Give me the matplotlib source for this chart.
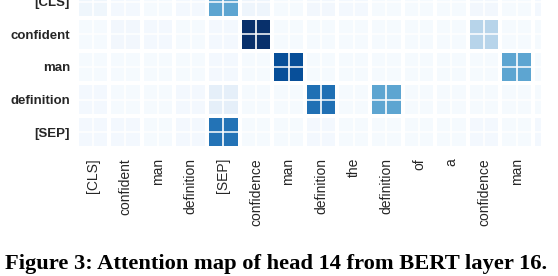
import numpy as np
import matplotlib
matplotlib.use("Agg")
import matplotlib.pyplot as plt

# ---- data -------------------------------------------------------------
row_labels = ["[CLS]", "confident", "man", "definition", "[SEP]"]
col_labels = ["[CLS]", "confident", "man", "definition", "[SEP]", "confidence",
              "man", "definition", "the", "definition", "of", "a",
              "confidence", "man"]
# 15th column is only partially visible at the right edge (no label)
cls_row        = [0.04, 0.02, 0.01, 0.02, 0.54, 0.05, 0.01, 0.03, 0.02, 0.01, 0.01, 0.01, 0.03, 0.01, 0.02]
confident_row  = [0.01, 0.03, 0.02, 0.01, 0.02, 1.00, 0.01, 0.01, 0.01, 0.01, 0.01, 0.01, 0.30, 0.01, 0.01]
man_row        = [0.01, 0.01, 0.01, 0.01, 0.02, 0.01, 0.88, 0.01, 0.01, 0.01, 0.01, 0.01, 0.01, 0.54, 0.01]
definition_row = [0.02, 0.01, 0.01, 0.02, 0.09, 0.01, 0.01, 0.75, 0.01, 0.54, 0.01, 0.01, 0.01, 0.01, 0.01]
sep_row        = [0.02, 0.02, 0.01, 0.02, 0.74, 0.01, 0.01, 0.02, 0.01, 0.01, 0.01, 0.01, 0.02, 0.01, 0.02]
caption = "Figure 3: Attention map of head 14 from BERT layer 16."

data = np.array([cls_row, confident_row, man_row, definition_row, sep_row])
n_rows, n_cols = data.shape

# ---- figure -----------------------------------------------------------
W, H, DPI = 558, 276, 100
fig = plt.figure(figsize=(W / DPI, H / DPI), dpi=DPI)

pitch = 32.6  # pixels per cell
x_vis = 14.25  # visible number of columns
left_px, bottom_px = 76.6, 148.4
ax = fig.add_axes([left_px / W, (H - bottom_px) / H,
                   x_vis * pitch / W, n_rows * pitch / H])

ax.pcolormesh(np.arange(n_cols + 1), np.arange(n_rows + 1), data,
              cmap="Blues", vmin=0, vmax=1, edgecolor="white",
              linewidth=2.7)
for xv in np.arange(n_cols) + 0.5:
    ax.axvline(xv, color="white", lw=1.2)
for yv in np.arange(n_rows) + 0.5:
    ax.axhline(yv, color="white", lw=1.1)

ax.set_xlim(0, x_vis)
ax.set_ylim(n_rows, 0)
for s in ax.spines.values():
    s.set_visible(False)

ax.set_xticks(np.arange(len(col_labels)) + 0.5)
ax.set_xticklabels(col_labels, rotation=90, fontsize=10,
                   family="Liberation Sans", color="#262626")
ax.set_yticks(np.arange(n_rows) + 0.5)
ax.set_yticklabels(row_labels, fontsize=9.5, fontweight="bold",
                   family="Liberation Sans", color="#262626")
ax.tick_params(axis="x", length=0, pad=6.9)
ax.tick_params(axis="y", length=0, pad=4.7)

# caption fitted to the reference width
cap = fig.text((5 + 547) / 2 / W, (H - 269) / H, caption, ha="center",
               va="baseline", fontsize=14, fontweight="bold",
               family="Liberation Serif", color="black")
fig.canvas.draw()
bb = cap.get_window_extent()
cap.set_fontsize(14 * 542 / bb.width)

fig.savefig("out.png", dpi=DPI)
